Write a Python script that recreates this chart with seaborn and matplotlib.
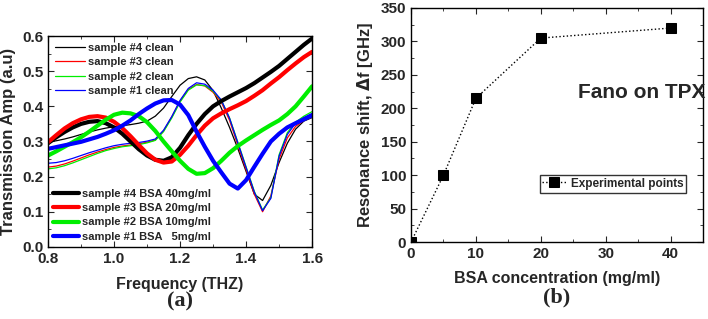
import numpy as np
import pandas as pd
import seaborn as sns
import matplotlib.pyplot as plt
from matplotlib.ticker import MultipleLocator

# ---- panel (a) data: transmission amplitude vs frequency ----
freq = [0.800, 0.825, 0.850, 0.875, 0.900, 0.925, 0.950, 0.975, 1.000, 1.025, 1.050,
        1.075, 1.100, 1.125, 1.150, 1.175, 1.200, 1.225, 1.250, 1.275, 1.300, 1.325,
        1.350, 1.375, 1.400, 1.425, 1.450, 1.475, 1.500, 1.525, 1.550, 1.575, 1.600]

clean4 = [0.298, 0.302, 0.307, 0.313, 0.320, 0.327, 0.333, 0.338, 0.342, 0.345, 0.348,
          0.352, 0.358, 0.372, 0.395, 0.428, 0.460, 0.479, 0.484, 0.475, 0.445, 0.395,
          0.340, 0.280, 0.215, 0.150, 0.132, 0.175, 0.240, 0.295, 0.335, 0.358, 0.368]
clean3 = [0.227, 0.230, 0.236, 0.244, 0.253, 0.262, 0.270, 0.277, 0.283, 0.287, 0.290,
          0.293, 0.298, 0.304, 0.330, 0.370, 0.415, 0.448, 0.462, 0.458, 0.440, 0.412,
          0.360, 0.290, 0.220, 0.150, 0.100, 0.145, 0.250, 0.310, 0.343, 0.360, 0.370]
clean2 = [0.222, 0.225, 0.231, 0.239, 0.248, 0.257, 0.266, 0.274, 0.280, 0.285, 0.288,
          0.291, 0.296, 0.303, 0.328, 0.367, 0.412, 0.446, 0.461, 0.459, 0.443, 0.417,
          0.367, 0.298, 0.228, 0.158, 0.105, 0.140, 0.262, 0.325, 0.355, 0.372, 0.385]
clean1 = [0.238, 0.240, 0.245, 0.252, 0.260, 0.268, 0.275, 0.282, 0.288, 0.292, 0.295,
          0.297, 0.301, 0.307, 0.332, 0.371, 0.417, 0.451, 0.467, 0.463, 0.446, 0.418,
          0.366, 0.296, 0.226, 0.156, 0.103, 0.138, 0.258, 0.320, 0.352, 0.368, 0.380]

bsa40 = [0.295, 0.312, 0.327, 0.340, 0.350, 0.356, 0.358, 0.352, 0.340, 0.322, 0.300,
         0.278, 0.260, 0.248, 0.245, 0.255, 0.282, 0.318, 0.350, 0.378, 0.400, 0.415,
         0.428, 0.440, 0.452, 0.466, 0.482, 0.498, 0.515, 0.535, 0.555, 0.575, 0.593]
bsa20 = [0.298, 0.318, 0.337, 0.352, 0.363, 0.370, 0.372, 0.368, 0.356, 0.338, 0.315,
         0.290, 0.266, 0.248, 0.240, 0.243, 0.262, 0.288, 0.318, 0.345, 0.366, 0.380,
         0.392, 0.403, 0.415, 0.430, 0.446, 0.465, 0.483, 0.503, 0.522, 0.540, 0.555]
bsa10 = [0.260, 0.272, 0.285, 0.298, 0.312, 0.328, 0.345, 0.362, 0.376, 0.382, 0.380,
         0.372, 0.355, 0.330, 0.300, 0.272, 0.245, 0.222, 0.208, 0.210, 0.224, 0.245,
         0.268, 0.287, 0.303, 0.318, 0.333, 0.347, 0.360, 0.378, 0.400, 0.428, 0.457]
bsa5 = [0.279, 0.284, 0.289, 0.294, 0.299, 0.306, 0.313, 0.322, 0.332, 0.345, 0.360,
        0.378, 0.394, 0.408, 0.417, 0.418, 0.405, 0.375, 0.328, 0.285, 0.245, 0.212,
        0.180, 0.166, 0.190, 0.228, 0.265, 0.300, 0.322, 0.340, 0.352, 0.363, 0.374]

clean_labels = ["sample #4 clean", "sample #3 clean", "sample #2 clean", "sample #1 clean"]
bsa_labels = ["sample #4 BSA 40mg/ml", "sample #3 BSA 20mg/ml",
              "sample #2 BSA 10mg/ml", "sample #1 BSA   5mg/ml"]
colors = ["black", "red", "#00ee00", "blue"]

# ---- panel (b) data ----
conc = [0, 5, 10, 20, 40]
shift = [0, 100, 215, 305, 320]

sns.set_style("ticks")
plt.rcParams['font.family'] = ['Liberation Sans', 'DejaVu Sans']
plt.rcParams['font.weight'] = 'bold'
plt.rcParams['axes.labelweight'] = 'bold'
plt.rcParams['xtick.direction'] = 'in'
plt.rcParams['ytick.direction'] = 'in'

fig = plt.figure(figsize=(7.08, 3.19), dpi=100)
ax1 = fig.add_axes([0.0678, 0.226, 0.373, 0.661])
ax2 = fig.add_axes([0.5805, 0.241, 0.4125, 0.734])

for ys, lab, c in zip([clean4, clean3, clean2, clean1], clean_labels, colors):
    sns.lineplot(x=freq, y=ys, ax=ax1, color=c, lw=0.9, label=lab)
for ys, lab, c in zip([bsa40, bsa20, bsa10, bsa5], bsa_labels, colors):
    sns.lineplot(x=freq, y=ys, ax=ax1, color=c, lw=3.0, label=lab)

handles, labels = ax1.get_legend_handles_labels()
leg1 = ax1.legend(handles[:4], labels[:4], loc='upper left', frameon=False,
                  prop={'size': 8, 'weight': 'bold'}, handlelength=2.7,
                  labelspacing=0.4, borderaxespad=0.4, handletextpad=0.3,
                  borderpad=0.2)
ax1.add_artist(leg1)
ax1.legend(handles[4:], labels[4:], loc='lower left', frameon=False,
           prop={'size': 8, 'weight': 'bold'}, handlelength=2.3,
           labelspacing=0.4, borderaxespad=0.15, handletextpad=0.35,
           borderpad=0.3)

ax1.set_xlim(0.8, 1.6)
ax1.set_ylim(0, 0.6)
ax1.xaxis.set_major_locator(MultipleLocator(0.2))
ax1.xaxis.set_minor_locator(MultipleLocator(0.1))
ax1.yaxis.set_major_locator(MultipleLocator(0.1))
ax1.yaxis.set_minor_locator(MultipleLocator(0.05))
ax1.set_xlabel("Frequency (THZ)", fontsize=11.5, labelpad=8)
ax1.set_ylabel("Transmission Amp (a.u)", fontsize=12)
ax1.text(0.5, -0.26, "(a)", transform=ax1.transAxes, ha='center', va='center',
         fontsize=16, fontweight='bold', family='Liberation Serif')

sns.lineplot(x=conc, y=shift, ax=ax2, color='black', lw=1.0, linestyle=':',
             marker='s', markersize=6.5, markeredgecolor='black',
             label="Experimental points")
ax2.legend(loc='center right', bbox_to_anchor=(0.943, 0.25), fancybox=False,
           edgecolor='black', prop={'size': 8.5, 'weight': 'bold'},
           handlelength=2.0, borderpad=0.25, handletextpad=0.4,
           borderaxespad=0)
ax2.set_xlim(0, 45)
ax2.set_ylim(0, 350)
ax2.xaxis.set_major_locator(MultipleLocator(10))
ax2.xaxis.set_minor_locator(MultipleLocator(5))
ax2.yaxis.set_major_locator(MultipleLocator(50))
ax2.yaxis.set_minor_locator(MultipleLocator(25))
ax2.set_xlabel("BSA concentration (mg/ml)", fontsize=11.5, labelpad=7)
ax2.set_ylabel("Resonance shift, $\\Delta$f [GHz]", fontsize=12)
ax2.text(0.79, 0.64, "Fano on TPX", transform=ax2.transAxes, ha='center',
         va='center', fontsize=15, fontweight='bold')
ax2.text(0.5, -0.235, "(b)", transform=ax2.transAxes, ha='center', va='center',
         fontsize=16, fontweight='bold', family='Liberation Serif')

for ax in (ax1, ax2):
    ax.tick_params(which='both', top=True, right=True, labelsize=11)
    ax.tick_params(which='major', length=4)
    ax.tick_params(which='minor', length=2)
    for s in ax.spines.values():
        s.set_linewidth(1.0)
        s.set_color('black')

fig.savefig("out.png", dpi=100)
